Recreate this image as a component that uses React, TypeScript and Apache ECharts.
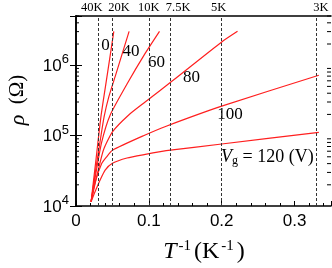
import React, { useEffect, useRef } from "react";
import * as echarts from "echarts";

// inverse temperature (1/K) and resistivity (Ohm) for each gate voltage
const invT_0 = [0.0207, 0.027, 0.0345, 0.043, 0.0519];
const rho_0 = [1.15e4, 4.17e4, 1.95e5, 7.41e5, 3.03e6];
const invT_40 = [0.0207, 0.028, 0.034, 0.0386, 0.045, 0.055, 0.0729];
const rho_40 = [1.15e4, 3.8e4, 9.55e4, 1.86e5, 3.55e5, 7.6e5, 3.03e6];
const invT_60 = [0.0207, 0.027, 0.035, 0.0468, 0.07, 0.0949, 0.1146];
const rho_60 = [1.15e4, 2.8e4, 7.9e4, 1.95e5, 5.4e5, 1.47e6, 3.03e6];
const invT_80 = [0.0207, 0.028, 0.0376, 0.05, 0.072, 0.0949, 0.1333, 0.2, 0.2217];
const rho_80 = [1.15e4, 2.5e4, 6.2e4, 1.13e5, 1.95e5, 3.0e5, 6.1e5, 2.14e6, 3.03e6];
const invT_100 = [0.0207, 0.026, 0.0354, 0.042, 0.05, 0.0949, 0.1238, 0.2, 0.3333];
const rho_100 = [1.15e4, 2.14e4, 4.04e4, 5.0e4, 6.2e4, 1.02e5, 1.36e5, 2.62e5, 7.2e5];
const invT_120 = [0.0207, 0.026, 0.0331, 0.04, 0.05, 0.07, 0.0949, 0.1238, 0.2, 0.3333];
const rho_120 = [1.15e4, 1.58e4, 2.34e4, 3.24e4, 4.04e4, 4.8e4, 5.4e4, 6.1e4, 7.6e4, 1.11e5];

const gateVoltages = ["0", "40", "60", "80", "100", "120"];
const tempsK = [40, 20, 10, 7.5, 5, 3];
const tempLabels = ["40K", "20K", "10K", "7.5K", "5K", "3K"];

const X_MIN = 0;
const X_MAX = 0.35;
const Y_MIN = 1e4;
const Y_MAX = 5e6;

const RED = "#ff1f1f";
const SERIF = "Liberation Serif";
const SANS = "Liberation Sans";

const seriesX = [invT_0, invT_40, invT_60, invT_80, invT_100, invT_120];
const seriesY = [rho_0, rho_40, rho_60, rho_80, rho_100, rho_120];

// label offsets for the top temperature labels (px shift)
const topPads: [number, number][] = [
  [0, 5],
  [13, 0],
  [0, 0],
  [10, 0],
  [0, 6],
  [4, 0],
];

export default function App() {
  const ref = useRef<HTMLDivElement>(null);
  useEffect(() => {
    if (!ref.current) return;
    const chart = echarts.init(ref.current, null, { renderer: "svg" });
    const topRich: any = {};
    tempLabels.forEach((_, i) => {
      topRich["t" + i] = {
        fontFamily: SERIF,
        fontSize: 12.5,
        color: "#000",
        padding: [0, topPads[i][1], 0, topPads[i][0]],
      };
    });
    const series: any[] = seriesX.map((xs, i) => ({
      name: gateVoltages[i],
      type: "line",
      xAxisIndex: 0,
      yAxisIndex: 0,
      data: xs.map((x, j) => [x, seriesY[i][j]]),
      showSymbol: false,
      symbol: "none",
      smooth: 0.2,
      lineStyle: { color: RED, width: 1.2 },
      z: 3,
    }));
    series.push({
      type: "line",
      xAxisIndex: 0,
      yAxisIndex: 0,
      data: [],
      z: 1,
      markLine: {
        silent: true,
        symbol: "none",
        label: { show: false },
        lineStyle: { color: "#333", width: 1, type: [3, 2] },
        data: tempsK.map((t) => ({ xAxis: 1 / t })),
      },
    });

    const axisLine = { show: true, lineStyle: { color: "#000", width: 1.6 } };
    chart.setOption({
      animation: false,
      grid: { left: 76, right: 1, top: 15, bottom: 62 },
      xAxis: [
        {
          type: "value",
          min: X_MIN,
          max: X_MAX,
          interval: 0.1,
          position: "bottom",
          axisLine,
          axisTick: { inside: true, length: 5, lineStyle: { color: "#000" } },
          minorTick: { show: true, splitNumber: 5, length: 3, lineStyle: { color: "#000" } },
          splitLine: { show: false },
          axisLabel: {
            fontFamily: SANS,
            fontSize: 17,
            color: "#000",
            margin: 6,
            showMaxLabel: false,
            formatter: (v: number) => String(+v.toFixed(2)),
          },
        },
        {
          type: "value",
          min: X_MIN,
          max: X_MAX,
          position: "top",
          axisLine,
          axisTick: { show: false },
          splitLine: { show: false },
          axisLabel: {
            margin: 3,
            customValues: tempsK.map((t) => 1 / t),
            formatter: (v: number) => {
              let best = 0;
              tempsK.forEach((t, i) => {
                if (Math.abs(1 / t - v) < Math.abs(1 / tempsK[best] - v)) best = i;
              });
              return `{t${best}|${tempLabels[best]}}`;
            },
            rich: topRich,
          },
        },
      ],
      yAxis: [
        {
          type: "log",
          logBase: 10,
          min: Y_MIN,
          max: Y_MAX,
          position: "left",
          axisLine,
          axisTick: { inside: true, length: 6, lineStyle: { color: "#000" } },
          splitLine: { show: false },
          axisLabel: {
            margin: 7,
            formatter: (v: number) => {
              const e = Math.log10(v);
              if (Math.abs(e - Math.round(e)) > 1e-6) return "";
              return `{b|10}{s|${Math.round(e)}}`;
            },
            rich: {
              b: { fontFamily: SANS, fontSize: 17, color: "#000", lineHeight: 26 },
              s: { fontFamily: SANS, fontSize: 13, color: "#000", verticalAlign: "top", lineHeight: 13 },
            },
          },
        },
        {
          type: "log",
          logBase: 10,
          min: Y_MIN,
          max: Y_MAX,
          position: "right",
          axisLine,
          axisTick: { inside: true, length: 6, lineStyle: { color: "#000" } },
          splitLine: { show: false },
          axisLabel: { show: false },
        },
      ],
      series,
    });

    // log minor ticks via the axis scale
    const left = chart.convertToPixel({ xAxisIndex: 0 }, X_MIN) as number;
    const right = chart.convertToPixel({ xAxisIndex: 0 }, X_MAX) as number;
    const graphics: any[] = [];
    for (let p = 4; p <= 6; p++) {
      for (let k = 2; k <= 9; k++) {
        const v = k * Math.pow(10, p);
        if (v > Y_MAX) continue;
        const y = chart.convertToPixel({ yAxisIndex: 0 }, v) as number;
        graphics.push({
          type: "line",
          silent: true,
          shape: { x1: left, y1: y, x2: left + 3, y2: y },
          style: { stroke: "#000", lineWidth: 1 },
        });
        graphics.push({
          type: "line",
          silent: true,
          shape: { x1: right - 4, y1: y, x2: right, y2: y },
          style: { stroke: "#000", lineWidth: 1 },
        });
      }
    }
    const curveLabelPos: [number, number][] = [
      [105.5, 44],
      [131, 50],
      [156.5, 61],
      [191.5, 76.5],
      [230, 113.5],
    ];
    curveLabelPos.forEach(([x, y], i) => {
      graphics.push({
        type: "text",
        x,
        y,
        silent: true,
        style: {
          text: gateVoltages[i],
          fontFamily: SERIF,
          fontSize: 17,
          fill: "#000",
          align: "center",
          verticalAlign: "middle",
        },
      });
    });
    graphics.push({
      type: "text",
      x: 221,
      y: 156,
      silent: true,
      style: {
        text: `{v|V}{g|g}{n| = ${gateVoltages[5]} (V)}`,
        align: "left",
        verticalAlign: "middle",
        rich: {
          v: { fontFamily: SERIF, fontStyle: "italic", fontSize: 18, lineHeight: 20, fill: "#000" },
          g: { fontFamily: SERIF, fontSize: 12, lineHeight: 12, verticalAlign: "bottom", fill: "#000" },
          n: { fontFamily: SERIF, fontSize: 18, lineHeight: 20, fill: "#000" },
        },
      },
    });
    graphics.push({
      type: "text",
      x: 16,
      y: 100,
      rotation: Math.PI / 2,
      silent: true,
      style: {
        text: "{i|ρ}{n|  (Ω)}",
        align: "center",
        verticalAlign: "middle",
        rich: {
          i: { fontFamily: SERIF, fontStyle: "italic", fontSize: 22, fill: "#000" },
          n: { fontFamily: SERIF, fontSize: 21, fill: "#000" },
        },
      },
    });
    graphics.push({
      type: "text",
      x: 204,
      y: 250,
      silent: true,
      style: {
        text: "{i|T}{s|-1}{n|(K}{s|-1}{n|)}",
        align: "center",
        verticalAlign: "middle",
        rich: {
          i: { fontFamily: SERIF, fontStyle: "italic", fontSize: 24, lineHeight: 26, fill: "#000" },
          n: { fontFamily: SERIF, fontSize: 24, lineHeight: 26, fill: "#000" },
          s: { fontFamily: SERIF, fontSize: 15, lineHeight: 15, verticalAlign: "top", fill: "#000", padding: [0, 3, 0, 2] },
        },
      },
    });
    chart.setOption({ graphic: graphics });

    return () => chart.dispose();
  }, []);
  return (
    <div
      ref={ref}
      style={{ position: "fixed", left: 0, top: 0, width: 332, height: 268 }}
    />
  );
}
